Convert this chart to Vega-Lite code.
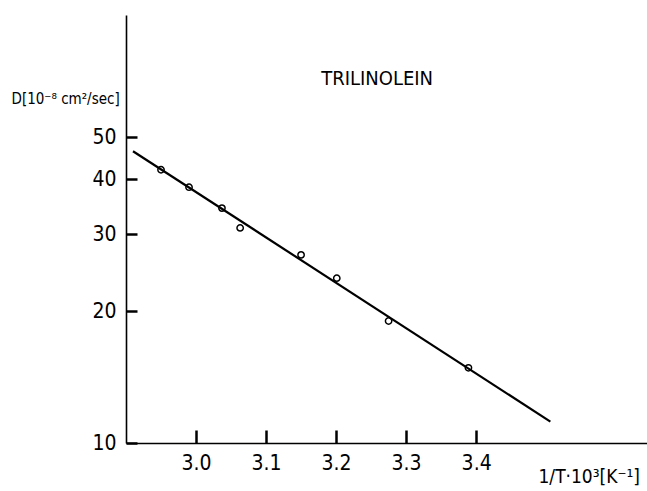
{
  "$schema": "https://vega.github.io/schema/vega-lite/v6.json",
  "width": 521,
  "height": 428,
  "autosize": {"type": "none"},
  "padding": {"left": 126, "top": 15, "right": 0, "bottom": 48},
  "background": "white",
  "config": {
    "view": {"stroke": null},
    "axis": {"grid": false, "domainColor": "black", "labelColor": "black"}
  },
  "datasets": {
    "points": [
      {"inv_T": 2.950, "D": 42.1},
      {"inv_T": 2.990, "D": 38.4},
      {"inv_T": 3.037, "D": 34.4},
      {"inv_T": 3.063, "D": 31.0},
      {"inv_T": 3.150, "D": 26.9},
      {"inv_T": 3.201, "D": 23.8},
      {"inv_T": 3.275, "D": 19.0},
      {"inv_T": 3.389, "D": 14.85}
    ],
    "fit": [
      {"inv_T": 2.910, "D": 46.4},
      {"inv_T": 3.506, "D": 11.19}
    ],
    "label": [
      {"inv_T": 3.2586, "D": 67.7, "text": "TRILINOLEIN"}
    ]
  },
  "layer": [
    {
      "data": {"name": "points"},
      "mark": {"type": "point", "shape": "circle", "filled": true, "fill": "white", "stroke": "black", "strokeWidth": 1.5, "size": 40, "opacity": 1},
      "encoding": {
        "x": {
          "field": "inv_T",
          "type": "quantitative",
          "scale": {"domain": [2.9, 3.644], "nice": false, "zero": false},
          "axis": {
            "values": [3.0, 3.1, 3.2, 3.3, 3.4],
            "format": ".1f",
            "tickSize": -13,
            "tickWidth": 2.5,
            "tickColor": "black",
            "domainWidth": 1.6,
            "labelPadding": 22,
            "labelFontSize": 21,
            "labelFont": "DejaVu Sans Condensed, Roboto, sans-serif",
            "title": "1/T·10³[K⁻¹]",
            "titleFont": "DejaVu Sans Condensed, Roboto, sans-serif",
            "titleFontWeight": "normal",
            "titleColor": "black",
            "titleFontSize": 19,
            "titleAnchor": "start",
            "titleAlign": "left",
            "titleBaseline": "alphabetic",
            "titleX": 412,
            "titleY": 39
          }
        },
        "y": {
          "field": "D",
          "type": "quantitative",
          "scale": {"type": "log", "domain": [10, 95], "nice": false},
          "axis": {
            "values": [10, 20, 30, 40, 50],
            "format": "d",
            "tickSize": -11,
            "tickWidth": 2.5,
            "tickColor": "black",
            "domainWidth": 1.6,
            "labelPadding": 21,
            "labelFontSize": 21,
            "labelFont": "DejaVu Sans Condensed, Roboto, sans-serif",
            "title": "D[10⁻⁸ cm²/sec]",
            "titleFont": "DejaVu Sans Condensed, Roboto, sans-serif",
            "titleFontWeight": "normal",
            "titleColor": "black",
            "titleFontSize": 15,
            "titleAngle": 0,
            "titleAlign": "left",
            "titleBaseline": "alphabetic",
            "titleX": -115,
            "titleY": 88
          }
        }
      }
    },
    {
      "data": {"name": "fit"},
      "mark": {"type": "line", "color": "black", "strokeWidth": 2.2},
      "encoding": {
        "x": {"field": "inv_T", "type": "quantitative"},
        "y": {"field": "D", "type": "quantitative"}
      }
    },
    {
      "data": {"name": "label"},
      "mark": {"type": "text", "font": "DejaVu Sans Condensed, Roboto, sans-serif", "fontSize": 20, "align": "center", "baseline": "middle", "color": "black"},
      "encoding": {
        "x": {"field": "inv_T", "type": "quantitative"},
        "y": {"field": "D", "type": "quantitative"},
        "text": {"field": "text"}
      }
    }
  ]
}
